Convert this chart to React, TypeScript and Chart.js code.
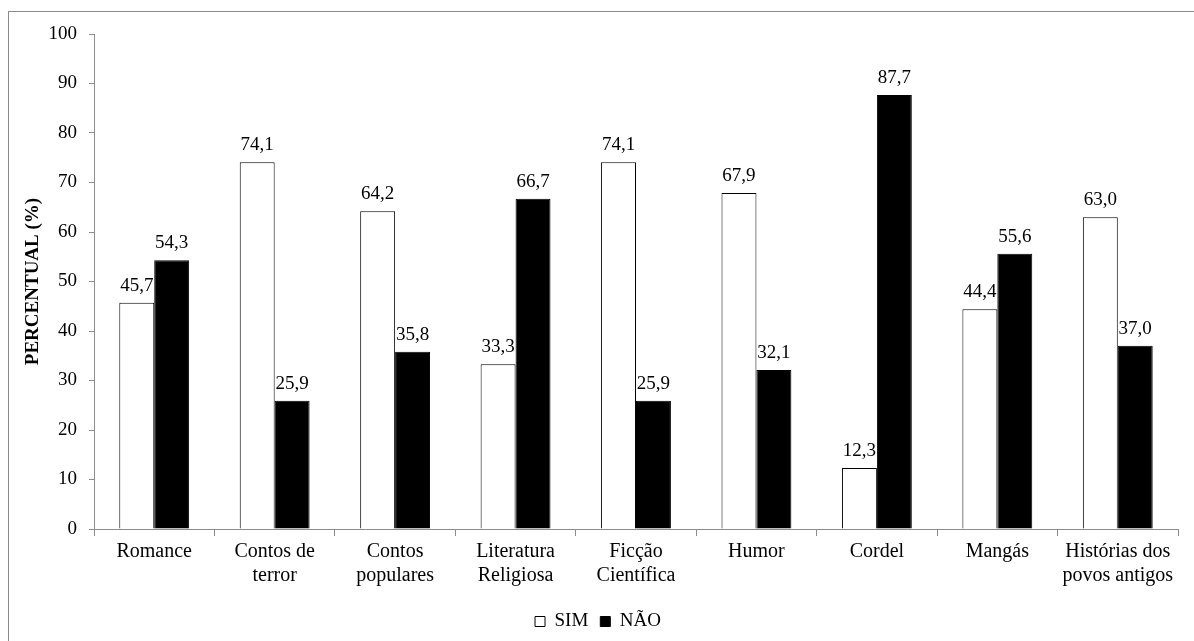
import React, { useEffect, useRef } from "react";
import { Chart, registerables } from "chart.js";

Chart.register(...registerables);

const categories: (string | string[])[] = [
  "Romance",
  ["Contos de", "terror"],
  ["Contos", "populares"],
  ["Literatura", "Religiosa"],
  ["Ficção", "Científica"],
  "Humor",
  "Cordel",
  "Mangás",
  ["Histórias dos", "povos antigos"],
];
const simValues = [45.7, 74.1, 64.2, 33.3, 74.1, 67.9, 12.3, 44.4, 63.0];
const naoValues = [54.3, 25.9, 35.8, 66.7, 25.9, 32.1, 87.7, 55.6, 37.0];
const seriesNames = ["SIM", "NÃO"];
const yTicks = { min: 0, max: 100, step: 10 };
const yTitle = "PERCENTUAL (%)";

const FONT = "'Liberation Serif', 'Times New Roman', serif";
const AXIS_GRAY = "#8c8c8c";

const valueLabels = {
  id: "valueLabels",
  afterDatasetsDraw(chart: any) {
    const ctx = chart.ctx;
    ctx.save();
    ctx.font = `19px ${FONT}`;
    ctx.fillStyle = "#000";
    ctx.textAlign = "center";
    ctx.textBaseline = "alphabetic";
    chart.data.datasets.forEach((ds: any, i: number) => {
      const meta = chart.getDatasetMeta(i);
      meta.data.forEach((el: any, j: number) => {
        const v = ds.data[j] as number;
        ctx.fillText(v.toFixed(1).replace(".", ","), el.x, el.y - 12);
      });
    });
    ctx.restore();
  },
};

export default function App() {
  const ref = useRef<HTMLCanvasElement>(null);
  useEffect(() => {
    if (!ref.current) return;
    const chart = new Chart(ref.current, {
      type: "bar",
      data: {
        labels: categories,
        datasets: [
          {
            label: seriesNames[0],
            data: simValues,
            backgroundColor: "#ffffff",
            borderColor: "#000000",
            borderWidth: 1,
            barPercentage: 1,
            categoryPercentage: 0.58,
          },
          {
            label: seriesNames[1],
            data: naoValues,
            backgroundColor: "#000000",
            borderColor: "#000000",
            borderWidth: 1,
            barPercentage: 1,
            categoryPercentage: 0.58,
          },
        ],
      },
      options: {
        animation: false,
        responsive: false,
        maintainAspectRatio: false,
        devicePixelRatio: 1,
        layout: { padding: { left: 18, right: 16, top: 34, bottom: 0 } },
        plugins: {
          tooltip: { enabled: false },
          legend: {
            position: "bottom",
            labels: {
              font: { family: FONT, size: 19 },
              color: "#000",
              boxWidth: 10,
              boxHeight: 10,
              padding: 12,
            },
          },
        },
        scales: {
          x: {
            offset: true,
            grid: {
              display: true,
              offset: true,
              drawOnChartArea: false,
              drawTicks: true,
              tickLength: 7,
              color: AXIS_GRAY,
            },
            border: { display: true, color: AXIS_GRAY, width: 1 },
            ticks: {
              font: { family: FONT, size: 20 },
              color: "#000",
              padding: 4,
              maxRotation: 0,
              autoSkip: false,
            },
            afterFit(scale: any) {
              scale.height = 71;
            },
          },
          y: {
            min: yTicks.min,
            max: yTicks.max,
            grid: {
              display: true,
              drawOnChartArea: false,
              drawTicks: true,
              tickLength: 5,
              color: AXIS_GRAY,
            },
            border: { display: true, color: AXIS_GRAY, width: 1 },
            ticks: {
              stepSize: yTicks.step,
              font: { family: FONT, size: 19 },
              color: "#000",
              padding: 12,
            },
            title: {
              display: true,
              text: yTitle,
              font: { family: FONT, size: 19, weight: "bold" },
              color: "#000",
              padding: { top: 4, bottom: 4 },
            },
            afterFit(scale: any) {
              scale.width = 76;
            },
          },
        },
      },
      plugins: [valueLabels],
    } as any);
    return () => chart.destroy();
  }, []);

  return (
    <div
      style={{
        position: "absolute",
        left: 0,
        top: 0,
        width: 1194,
        height: 641,
        overflow: "hidden",
        background: "#fff",
      }}
    >
      <div
        style={{
          position: "absolute",
          left: 8,
          top: 11,
          width: 1200,
          height: 640,
          border: "1px solid #8a8a8a",
          boxSizing: "border-box",
        }}
      />
      <canvas
        ref={ref}
        width={1194}
        height={641}
        style={{ position: "absolute", left: 0, top: 0, width: 1194, height: 641 }}
      />
    </div>
  );
}
